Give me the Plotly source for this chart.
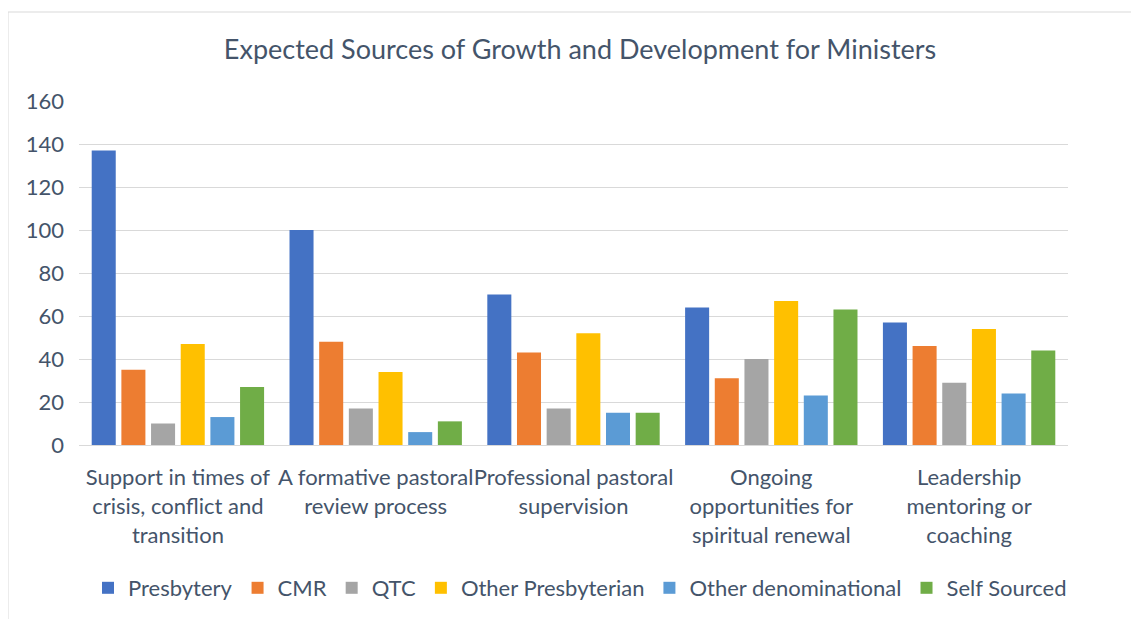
import plotly.graph_objects as go

categories = [
    "Support in times of<br>crisis, conflict and<br>transition",
    "A formative pastoral<br>review process",
    "Professional pastoral<br>supervision",
    "Ongoing<br>opportunities for<br>spiritual renewal",
    "Leadership<br>mentoring or<br>coaching",
]
presbytery = [137, 100, 70, 64, 57]
cmr = [35, 48, 43, 31, 46]
qtc = [10, 17, 17, 40, 29]
other_presbyterian = [47, 34, 52, 67, 54]
other_denominational = [13, 6, 15, 23, 24]
self_sourced = [27, 11, 15, 63, 44]

series_names = ["Presbytery", "CMR", "QTC", "Other Presbyterian", "Other denominational", "Self Sourced"]
series_values = [presbytery, cmr, qtc, other_presbyterian, other_denominational, self_sourced]
colors = ["#4472C4", "#ED7D31", "#A5A5A5", "#FFC000", "#5B9BD5", "#70AD47"]

TEXT = "#44546A"
FONT = "Lato"

W, H = 1131, 611
L, T = 71, 93
PW, PH = 989, 344

fig = go.Figure()
for name, vals, col in zip(series_names, series_values, colors):
    fig.add_trace(go.Bar(name=name, x=categories, y=vals, marker=dict(color=col, line=dict(width=0))))

fig.update_layout(
    width=W, height=H,
    barmode="group", bargap=0.10, bargroupgap=0.19,
    paper_bgcolor="white", plot_bgcolor="white",
    margin=dict(l=L, r=W - L - PW, t=T, b=H - T - PH, autoexpand=False),
    font=dict(family=FONT, color=TEXT, size=22),
    title=dict(text="Expected Sources of Growth and Development for Ministers",
               x=0.5066, xref="paper", xanchor="center",
               y=1 - 42 / H, yref="container", yanchor="middle",
               font=dict(family=FONT, size=27, color=TEXT)),
    legend=dict(orientation="h", x=0.5066, xanchor="center", y=-143 / PH, yanchor="middle",
                font=dict(family=FONT, size=22, color=TEXT), itemwidth=30,
                bgcolor="rgba(0,0,0,0)"),
    showlegend=True,
)
fig.update_yaxes(range=[0, 160], dtick=20, showgrid=True, gridcolor="#D9D9D9", gridwidth=1,
                 zeroline=True, zerolinecolor="#D9D9D9", zerolinewidth=1,
                 showline=False, ticks="", ticklabelstandoff=14,
                 tickfont=dict(family=FONT, size=22, color=TEXT))
fig.update_xaxes(showline=True, linecolor="#D9D9D9", linewidth=1, ticks="",
                 tickangle=0, ticklabelstandoff=13, tickfont=dict(family=FONT, size=22, color=TEXT))

fig.add_shape(type="rect", xref="paper", yref="paper",
              x0=(0 - L) / PW, x1=1.3, y0=-1.0, y1=(PH + T - 4) / PH,
              line=dict(color="#D9D9D9", width=1), fillcolor="rgba(0,0,0,0)", layer="below")

fig.write_html("out.html")
